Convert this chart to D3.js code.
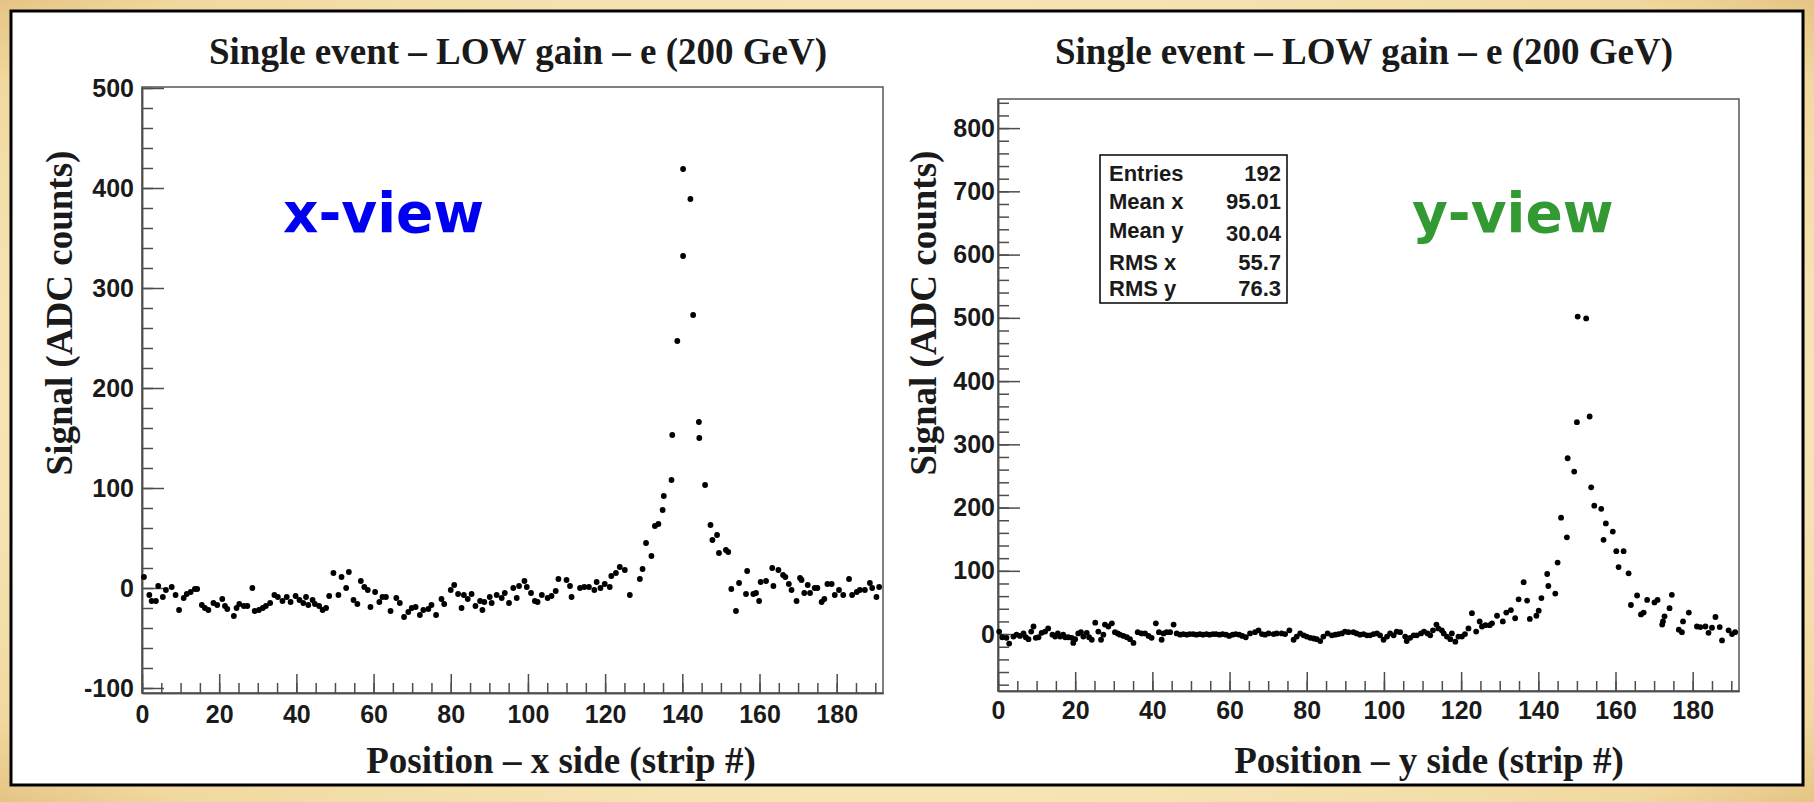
<!DOCTYPE html>
<html>
<head>
<meta charset="utf-8">
<script src="https://cdn.jsdelivr.net/npm/d3@7"></script>
<style>
    body { margin: 0; background: #f5e2ae; }
    svg text { fill: #1a1a1a; }
</style>
</head>
<body>
<div id="chart"></div>
<script>
// x-view: strip position and signal (ADC counts)
const xViewStrip = [0.5,1.9,2.5,3.6,4.2,5.4,6.2,7.7,8.7,9.6,10.8,11.6,12.6,13.7,14.3,15.5,16.3,17.2,18.5,19.5,
    20.8,21.5,22.1,23.8,24.5,25.2,26.4,27.3,28.6,29.2,30.3,31.3,32.1,33.2,34.3,35.2,36.4,37.5,38.5,39.8,
    40.8,41.8,42.5,43.1,44.2,44.8,45.9,46.8,47.7,48.5,49.6,50.9,51.7,52.9,53.6,54.8,55.8,56.7,57.6,58.5,
    59.2,60.4,61.5,62.3,63.2,64.4,65.9,
    66.8,67.9,69.0,69.9,70.9,72.0,72.9,74.2,75.0,76.2,77.6,78.3,80.0,80.9,81.9,82.8,83.4,84.4,85.4,86.4,
    87.6,88.2,88.7,90.1,90.6,91.9,93.2,94.0,95.1,96.2,97.1,97.7,99.1,99.7,100.8,101.8,102.5,103.6,105.1,106.1,
    107.2,107.9,110.0,110.9,111.3,113.5,114.6,115.8,117.2,117.8,118.8,119.9,121.2,121.6,122.8,123.8,125.1,126.4,
    129.0,129.7,130.6,132.0,132.9,133.8,134.9,135.2,137.2,137.4,138.7,140.2,140.2,142.1,142.8,144.3,144.4,145.9,147.3,147.8,
    149.0,149.5,151.3,151.9,152.7,153.9,154.7,156.5,156.8,158.4,159.1,159.9,160.3,161.7,
    163.3,163.6,164.9,166.1,166.7,167.6,168.3,169.6,170.5,170.9,171.6,172.5,173.1,174.3,175.0,176.1,176.8,177.6,178.7,179.5,
    180.6,181.7,183.2,184.0,185.2,186.0,187.3,188.6,189.2,190.3,191.0];
const xViewSignal = [11,-7,-13,-13,2,-9,-2,1,-7,-22,-10,-6,-4,-1,-1,-17,-20,-22,-15,-17,
    -11,-18,-21,-28,-20,-16,-18,-18,0,-23,-22,-20,-18,-15,-7,-9,-13,-9,-14,-8,
    -12,-15,-9,-17,-12,-16,-18,-22,-20,-8,15,-7,11,0,16,-12,-16,7,1,-2,
    -19,-4,-14,-9,-9,-23,-10,
    -15,-29,-24,-20,-19,-27,-22,-21,-17,-27,-11,-16,-2,3,-6,-20,-7,-11,-6,-18,
    -13,-22,-14,-9,-15,-7,-10,-5,-15,0,-10,2,7,1,-5,-13,-14,-7,-10,-8,
    -3,9,8,2,-9,0,1,1,-2,6,0,4,1,12,15,21,18,-7,
    9,19,45,32,62,64,78,92,108,153,247,332,419,389,273,166,150,103,63,48,
    53,35,38,36,-1,-23,5,-6,17,-6,-5,-13,6,7,
    20,2,18,13,11,4,-2,-13,10,8,-5,3,-5,0,0,-14,-11,4,4,-7,
    -2,-7,9,-7,-4,-2,-2,5,0,-9,1];

// y-view: strip position and signal (ADC counts)
const yViewStrip = [0.3,1.1,2.2,2.9,4.0,4.8,5.7,6.6,7.2,7.9,8.6,9.2,9.8,10.5,11.3,12.2,13.0,14.1,14.8,15.5,
    16.1,16.9,17.4,18.2,19.1,19.5,20.0,20.8,21.5,22.1,23.0,23.6,24.3,25.2,26.0,26.7,27.3,27.7,28.6,29.5,
    30.3,31.0,31.6,32.5,33.4,34.2,35.1,36.2,37.2,38.1,39.0,39.8,40.9,41.7,42.4,42.9,43.7,44.6,45.5,46.3,47.2,
    48.0,48.9,49.7,50.6,51.4,52.3,53.1,54.0,54.8,55.7,56.5,57.4,58.2,59.1,59.9,60.8,61.6,62.5,63.3,64.2,
    65.3,66.6,67.5,68.4,69.2,70.1,71.4,72.2,73.5,74.4,75.5,76.6,77.4,78.3,79.2,80.0,80.9,81.8,82.6,83.5,
    84.3,85.4,86.5,87.4,88.2,89.1,89.9,90.8,92.1,92.9,93.8,94.7,95.6,96.4,97.3,98.2,99.0,99.9,100.8,101.6,
    102.5,103.3,104.2,105.5,105.9,106.8,107.7,108.5,109.6,110.4,111.3,112.0,112.7,113.6,114.1,115.0,115.5,116.3,117.2,117.6,
    118.5,119.3,120.2,121.0,121.9,122.8,123.9,124.8,125.4,126.3,127.4,
    128.0,129.3,130.8,131.7,132.9,134.0,134.9,136.2,137.1,137.8,139.5,140.1,140.8,142.3,142.6,144.4,145.0,145.9,147.4,147.6,
    149.3,150.0,150.2,152.4,153.3,153.7,154.5,156.3,156.9,157.5,159.3,160.2,160.8,162.1,163.4,164.0,165.6,166.6,167.3,168.2,
    170.1,170.9,172.1,172.3,172.7,174.0,174.6,176.4,177.2,177.5,179.0,181.1,182.0,183.3,184.1,185.0,185.9,187.0,187.6,189.3,
    190.2,191.0];
const yViewSignal = [4,-5,-6,-15,-4,-1,-3,1,-5,-8,4,12,-6,-5,2,4,9,-1,-4,1,
    -4,-1,-5,-5,-6,-14,-8,1,3,-4,2,-5,-9,18,4,-9,-1,15,12,17,
    3,1,-1,-3,-5,-8,-14,3,1,1,-3,-6,17,3,-9,1,3,3,15,1,-1,
    0,-1,0,0,-1,0,-1,0,-1,0,0,-1,0,-1,-3,-1,0,-1,-3,-5,
    1,3,6,0,-1,1,0,1,1,0,6,-9,-4,1,-2,-4,-6,-7,-8,-11,
    -4,1,-2,-1,0,1,4,3,3,1,-1,0,-2,-2,0,1,-2,-9,-4,1,
    -2,4,3,-4,-11,-6,-2,-2,1,4,1,-2,6,15,9,6,1,-4,-8,1,
    -12,-4,-4,0,9,33,4,20,12,14,14,
    17,29,20,34,38,25,55,82,53,24,29,37,57,95,76,64,113,184,153,278,
    257,335,502,499,344,232,203,198,149,175,162,131,106,131,96,46,61,31,34,54,
    50,54,15,20,28,41,62,7,3,20,34,12,11,12,2,10,27,11,-10,6,
    0,3];

// tick labels
const stripTicks = [0, 20, 40, 60, 80, 100, 120, 140, 160, 180];
const xViewTicks = [-100, 0, 100, 200, 300, 400, 500];
const yViewTicks = [0, 100, 200, 300, 400, 500, 600, 700, 800];

// stats box of the y-view
const statLabels = ['Entries', 'Mean x', 'Mean y', 'RMS x', 'RMS y'];
const statValues = ['192', '95.01', '30.04', '55.7', '76.3'];

const plotTitle = 'Single event \u2013 LOW gain \u2013 e (200 GeV)';
const yTitle = 'Signal (ADC counts)';

const SERIF = '"Liberation Serif", "Times New Roman", serif';
const SANS = '"Liberation Sans", Arial, Helvetica, sans-serif';

class StripPlot {

    constructor(_config, _strips, _signal) {
        this.config = _config;
        this.strips = _strips;
        this.signal = _signal;
        this.initVis();
    }

    initVis() {
        let vis = this;
        const c = vis.config;
        vis.points = vis.strips.map((s, i) => ({strip: s, signal: vis.signal[i]}));

        vis.xScale = d3.scaleLinear().domain([0, 192]).range([c.left, c.right]);
        vis.yScale = d3.scaleLinear().domain(c.yDomain).range([c.bottom, c.top]);

        vis.g = c.svg.append('g').attr('class', 'plot');

        // frame
        vis.g.append('rect')
            .attr('x', c.left)
            .attr('y', c.top)
            .attr('width', c.right - c.left)
            .attr('height', c.bottom - c.top)
            .attr('fill', '#fff')
            .attr('stroke', '#555')
            .attr('stroke-width', 1.5);

        vis.renderVis();
    }

    renderVis() {
        let vis = this;
        const c = vis.config;

        // minor ticks
        vis.g.append('g')
            .attr('class', 'axis minor')
            .attr('transform', `translate(${c.left},0)`)
            .call(d3.axisLeft(vis.yScale).tickValues(c.yMinor).tickSize(-11).tickSizeOuter(0).tickFormat(''));
        vis.g.append('g')
            .attr('class', 'axis minor')
            .attr('transform', `translate(0,${c.bottom})`)
            .call(d3.axisBottom(vis.xScale).tickValues(d3.range(0, 193, 5)).tickSize(-10).tickSizeOuter(0).tickFormat(''));

        // major ticks + labels
        vis.g.append('g')
            .attr('class', 'axis y-axis')
            .attr('transform', `translate(${c.left},0)`)
            .call(d3.axisLeft(vis.yScale).tickValues(c.yTicks).tickSize(-22).tickSizeOuter(0)
                .tickPadding(c.yPad).tickFormat((d) => String(d)));
        vis.g.append('g')
            .attr('class', 'axis x-axis')
            .attr('transform', `translate(0,${c.bottom})`)
            .call(d3.axisBottom(vis.xScale).tickValues(stripTicks).tickSize(-19).tickSizeOuter(0)
                .tickPadding(c.xPad).tickFormat((d) => String(d)));

        vis.g.selectAll('.axis path, .axis line')
            .attr('stroke', '#4d4d4d')
            .attr('stroke-width', 1.5);
        vis.g.selectAll('.axis text')
            .attr('font-family', SANS)
            .attr('font-weight', 'bold')
            .attr('font-size', '25px')
            .attr('fill', '#1a1a1a');

        // data points
        vis.g.append('g').attr('class', 'points')
            .selectAll('circle')
            .data(vis.points)
            .join('circle')
            .attr('cx', (d) => vis.xScale(d.strip))
            .attr('cy', (d) => vis.yScale(d.signal))
            .attr('r', 2.9)
            .attr('fill', '#000');

        // titles
        vis.g.append('text')
            .attr('x', c.titleX)
            .attr('y', 64)
            .attr('text-anchor', 'middle')
            .attr('font-family', SERIF)
            .attr('font-weight', 'bold')
            .attr('font-size', '37px')
            .text(plotTitle);
        vis.g.append('text')
            .attr('transform', `translate(${c.yTitleX},313) rotate(-90)`)
            .attr('text-anchor', 'middle')
            .attr('font-family', SERIF)
            .attr('font-weight', 'bold')
            .attr('font-size', '37px')
            .text(yTitle);
        vis.g.append('text')
            .attr('x', c.xTitleX)
            .attr('y', 773)
            .attr('text-anchor', 'middle')
            .attr('font-family', SERIF)
            .attr('font-weight', 'bold')
            .attr('font-size', '37px')
            .text(c.xTitle);

        // view label
        vis.g.append('text')
            .attr('x', c.viewX)
            .attr('y', 232)
            .attr('font-family', '"Comic Sans MS", "DejaVu Sans", sans-serif')
            .attr('font-weight', 'bold')
            .attr('font-size', '55px')
            .style('fill', c.viewColor)
            .text(c.view);
    }
}

const svg = d3.select('#chart')
    .append('svg')
    .attr('width', 1814)
    .attr('height', 802);

// parchment background
const grad = svg.append('defs').append('radialGradient')
    .attr('id', 'paper')
    .attr('cx', '50%').attr('cy', '50%').attr('r', '75%');
grad.append('stop').attr('offset', '0%').attr('stop-color', '#fdf5dc');
grad.append('stop').attr('offset', '60%').attr('stop-color', '#f8e8bb');
grad.append('stop').attr('offset', '85%').attr('stop-color', '#f1d89e');
grad.append('stop').attr('offset', '100%').attr('stop-color', '#dcb874');
svg.append('rect')
    .attr('width', 1814)
    .attr('height', 802)
    .attr('fill', 'url(#paper)');
svg.append('rect')
    .attr('x', 11)
    .attr('y', 11)
    .attr('width', 1792)
    .attr('height', 774)
    .attr('fill', '#fff')
    .attr('stroke', '#000')
    .attr('stroke-width', 3);

new StripPlot({
    svg: svg,
    left: 142, right: 883, top: 87, bottom: 693,
    yDomain: [-105, 501],
    yTicks: xViewTicks,
    yMinor: d3.range(-100, 501, 20),
    yPad: 8, xPad: 12,
    titleX: 518, yTitleX: 72, xTitleX: 561,
    xTitle: 'Position \u2013 x side (strip #)',
    view: 'x-view', viewX: 283, viewColor: '#0000f0'
}, xViewStrip, xViewSignal);

new StripPlot({
    svg: svg,
    left: 998, right: 1739, top: 99, bottom: 691,
    yDomain: [-90, 846],
    yTicks: yViewTicks,
    yMinor: d3.range(-80, 846, 20),
    yPad: 3, xPad: 10,
    titleX: 1364, yTitleX: 936, xTitleX: 1429,
    xTitle: 'Position \u2013 y side (strip #)',
    view: 'y-view', viewX: 1412, viewColor: '#339933'
}, yViewStrip, yViewSignal);

// stats box
const statRowY = [181, 209, 238, 270, 296];
const stats = svg.append('g').attr('class', 'stats');
stats.append('rect')
    .attr('x', 1100)
    .attr('y', 155)
    .attr('width', 187)
    .attr('height', 148)
    .attr('fill', '#fff')
    .attr('stroke', '#000')
    .attr('stroke-width', 1.5);
stats.selectAll('.stat-label')
    .data(statLabels)
    .join('text')
    .attr('class', 'stat-label')
    .attr('x', 1109)
    .attr('y', (d, i) => statRowY[i])
    .attr('font-family', SANS)
    .attr('font-weight', 'bold')
    .attr('font-size', '22px')
    .text((d) => d);
stats.selectAll('.stat-value')
    .data(statValues)
    .join('text')
    .attr('class', 'stat-value')
    .attr('x', 1281)
    .attr('y', (d, i) => statRowY[i] + (i == 2 ? 3 : 0))
    .attr('text-anchor', 'end')
    .attr('font-family', SANS)
    .attr('font-weight', 'bold')
    .attr('font-size', '22px')
    .text((d) => d);
</script>
</body>
</html>
